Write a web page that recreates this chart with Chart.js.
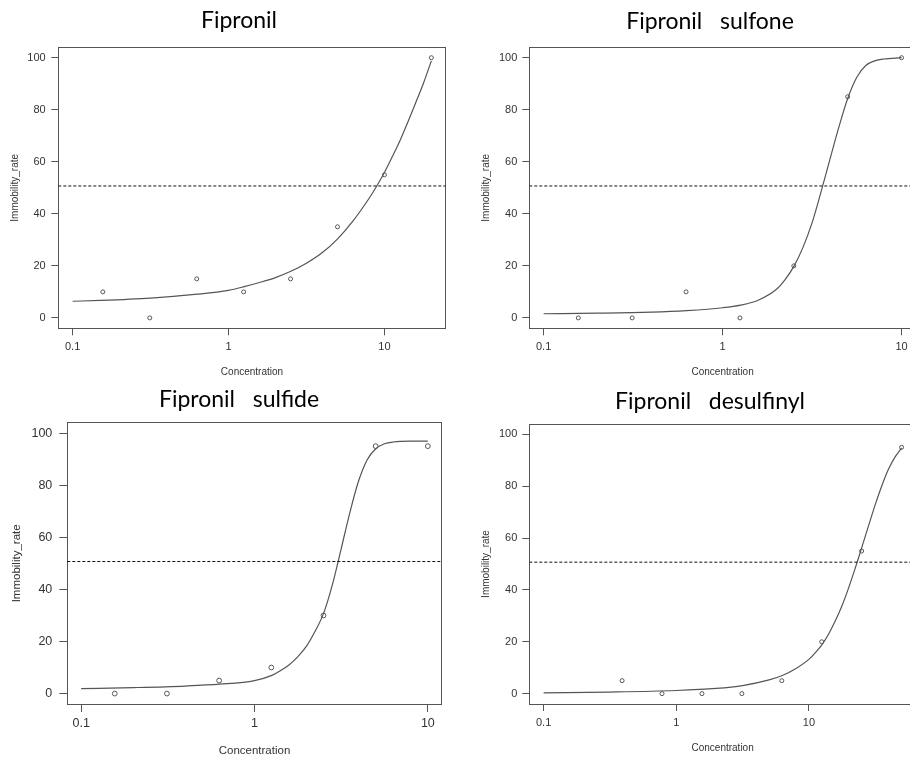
<!DOCTYPE html>
<html>
<head>
<meta charset="utf-8">
<script src="https://cdn.jsdelivr.net/npm/chart.js@4.4.1/dist/chart.umd.min.js"></script>
<style>
html,body{margin:0;padding:0;background:#fff;overflow:hidden;width:910px;height:760px;position:relative;}
canvas{position:absolute;}
</style>
</head>
<body>
<canvas id="c1" width="478" height="380" style="left:0px;top:0px"></canvas>
<canvas id="c2" width="510" height="380" style="left:455px;top:0px"></canvas>
<canvas id="c3" width="478" height="380" style="left:0px;top:380px"></canvas>
<canvas id="c4" width="510" height="380" style="left:455px;top:380px"></canvas>
<script>
// ---------- data ----------
const titles = ['Fipronil', 'Fipronil   sulfone', 'Fipronil   sulfide', 'Fipronil   desulfinyl'];
const xAxisTitle = 'Concentration';
const yAxisTitle = 'Immobility_rate';
const xTickValues = [0.1, 1, 10];
const xTickLabels = ['0.1', '1', '10'];
const yTickValues = [0, 20, 40, 60, 80, 100];
const yTickLabels = ['0', '20', '40', '60', '80', '100'];
const referenceLevel = 50.7;

// observed points
const conc1 = [0.15625, 0.3125, 0.625, 1.25, 2.5, 5, 10, 20];
const rate1 = [10, 0, 15, 10, 15, 35, 55, 100];
const conc2 = [0.15625, 0.3125, 0.625, 1.25, 2.5, 5, 10];
const rate2 = [0, 0, 10, 0, 20, 85, 100];
const conc3 = [0.15625, 0.3125, 0.625, 1.25, 2.5, 5, 10];
const rate3 = [0, 0, 5, 10, 30, 95, 95];
const conc4 = [0.390625, 0.78125, 1.5625, 3.125, 6.25, 12.5, 25, 50];
const rate4 = [5, 0, 0, 0, 5, 20, 55, 95];

// fitted curves
const fitConc1 = [0.1, 0.15, 0.316, 0.631, 1, 1.26, 1.58, 2, 2.51, 3.16, 3.98, 5.01, 6.31, 7.94, 8.91, 10, 11.2, 12.6, 14.1, 15.8, 17.8, 20];
const fitRate1 = [6.4, 6.7, 7.6, 9.1, 10.6, 12.0, 13.6, 15.5, 17.9, 21.0, 25.0, 30.4, 37.4, 45.8, 50.6, 55.9, 61.8, 68.2, 75.1, 82.4, 90.2, 98.8];
const fitConc2 = [0.1, 0.2, 0.4, 0.63, 1, 1.26, 1.58, 2, 2.24, 2.51, 2.82, 3.16, 3.55, 3.98, 4.47, 5.01, 5.62, 6.31, 7.08, 7.94, 10];
const fitRate2 = [1.6, 1.8, 2.2, 2.8, 3.9, 4.9, 6.8, 11.0, 14.8, 20.0, 27.3, 36.5, 48.5, 61.0, 73.5, 84.5, 92.5, 97.0, 98.8, 99.5, 100];
const fitConc3 = [0.1, 0.2, 0.4, 0.63, 1, 1.26, 1.41, 1.58, 1.78, 2, 2.24, 2.51, 2.82, 3.16, 3.55, 3.98, 4.47, 5.01, 5.62, 6.31, 7.94, 10];
const fitRate3 = [1.9, 2.3, 2.9, 3.6, 5.0, 7.0, 8.8, 11.0, 14.2, 18.3, 24.0, 31.0, 42.0, 55.5, 69.5, 81.5, 89.8, 94.0, 95.9, 96.6, 96.9, 96.9];
const fitConc4 = [0.1, 0.316, 1, 2, 3.16, 5.01, 6.31, 7.94, 10, 11.2, 12.6, 14.1, 15.8, 17.8, 20, 22.4, 25.1, 28.2, 31.6, 35.5, 39.8, 44.7, 50];
const fitRate4 = [0.3, 0.6, 1.2, 2.0, 3.1, 5.3, 7.0, 9.6, 13.2, 15.8, 19.0, 23.0, 28.0, 34.0, 41.0, 48.5, 56.5, 64.8, 72.8, 80.2, 86.5, 91.3, 94.8];

// ---------- layout / style ----------
const lineCol = '#555';
const textCol = '#333';
const tickFamily = "'Liberation Sans', Arial, sans-serif";
const titleFamily = "Lato, 'Open Sans', sans-serif";

// R-style axis limits: 4% expansion of the (log) data range
function rLogLimits(lo, hi) {
  const a = Math.log10(lo), b = Math.log10(hi), d = (b - a) * 0.04;
  return [Math.pow(10, a - d), Math.pow(10, b + d)];
}

const panels = [
  {id:'c1', t:0, conc:conc1, rate:rate1, fx:fitConc1, fy:fitRate1, range:[0.1, 20],
   yAxisW:58.3, y2W:32.3, xAxisH:51.7, tPad:{top:6.6, bottom:13.1},
   tickFont:11, labFont:10, tickLen:7, xTickPad:5.1, yTickPad:5.6, yTitlePad:9, xTitlePad:2, r:2},
  {id:'c2', t:1, conc:conc2, rate:rate2, fx:fitConc2, fy:fitRate2, range:[0.1, 10],
   yAxisW:74.3, y2W:49.1, xAxisH:51.7, tPad:{top:8, bottom:11.7},
   tickFont:11, labFont:10, tickLen:7, xTickPad:5.1, yTickPad:5, yTitlePad:25.7, xTitlePad:2, r:2},
  {id:'c3', t:2, conc:conc3, rate:rate3, fx:fitConc3, fy:fitRate3, range:[0.1, 10],
   yAxisW:67.3, y2W:36.3, xAxisH:56, tPad:{top:5.6, bottom:9.5},
   tickFont:12.5, labFont:11.5, tickLen:8, xTickPad:4.5, yTickPad:7, yTitlePad:9.8, xTitlePad:2.1, r:2.4},
  {id:'c4', t:3, conc:conc4, rate:rate4, fx:fitConc4, fy:fitRate4, range:[0.1, 50],
   yAxisW:74.3, y2W:49.1, xAxisH:56, tPad:{top:8, bottom:8.4},
   tickFont:11, labFont:10, tickLen:7, xTickPad:5.7, yTickPad:5, yTitlePad:25.7, xTitlePad:5.7, r:2}
];

panels.forEach(p => {
  const [xMin, xMax] = rLogLimits(p.range[0], p.range[1]);
  const pts = p.conc.map((c, i) => ({x: c, y: p.rate[i]}));
  const fit = p.fx.map((c, i) => ({x: c, y: p.fy[i]}));
  const ref = [{x: xMin, y: referenceLevel}, {x: xMax, y: referenceLevel}];

  new Chart(document.getElementById(p.id), {
    type: 'scatter',
    data: {
      datasets: [
        {data: ref, showLine: true, pointRadius: 0, borderColor: '#111', borderWidth: 1,
         borderDash: [3, 2], fill: false},
        {data: fit, showLine: true, pointRadius: 0, borderColor: lineCol, borderWidth: 1.2,
         cubicInterpolationMode: 'monotone', fill: false},
        {data: pts, showLine: false, pointStyle: 'circle', pointRadius: p.r,
         pointBorderWidth: 1, pointBorderColor: lineCol, pointBackgroundColor: 'rgba(0,0,0,0)'}
      ]
    },
    options: {
      responsive: false,
      animation: false,
      devicePixelRatio: 1,
      layout: {padding: 0},
      plugins: {
        legend: {display: false},
        tooltip: {enabled: false},
        title: {display: true, text: titles[p.t], color: '#000',
                font: {family: titleFamily, size: 23, weight: 'normal', lineHeight: 1.2},
                padding: p.tPad}
      },
      scales: {
        x: {
          type: 'logarithmic', position: 'bottom', min: xMin, max: xMax,
          afterBuildTicks: s => { s.ticks = xTickValues.map(v => ({value: v})); },
          afterFit: s => { s.height = p.xAxisH; },
          ticks: {autoSkip: false, maxRotation: 0, minRotation: 0, padding: p.xTickPad, color: textCol,
                  font: {family: tickFamily, size: p.tickFont},
                  callback: v => xTickLabels[xTickValues.indexOf(v)]},
          grid: {display: true, drawOnChartArea: false, drawTicks: true, tickLength: p.tickLen, color: lineCol},
          border: {display: true, color: lineCol, width: 1},
          title: {display: true, text: xAxisTitle, color: textCol,
                  font: {family: tickFamily, size: p.labFont, lineHeight: 1.2},
                  padding: {top: 0, bottom: p.xTitlePad}}
        },
        y: {
          type: 'linear', position: 'left', min: -4, max: 104,
          afterBuildTicks: s => { s.ticks = yTickValues.map(v => ({value: v})); },
          afterFit: s => { s.width = p.yAxisW; },
          ticks: {autoSkip: false, padding: p.yTickPad, color: textCol,
                  font: {family: tickFamily, size: p.tickFont},
                  callback: v => yTickLabels[yTickValues.indexOf(v)]},
          grid: {display: true, drawOnChartArea: false, drawTicks: true, tickLength: p.tickLen, color: lineCol},
          border: {display: true, color: lineCol, width: 1},
          title: {display: true, text: yAxisTitle, color: textCol,
                  font: {family: tickFamily, size: p.labFont, lineHeight: 1.2},
                  padding: {top: p.yTitlePad, bottom: 0}}
        },
        x2: {
          type: 'linear', position: 'top', display: true,
          afterFit: s => { s.height = 0; },
          ticks: {display: false}, grid: {display: false, drawTicks: false},
          border: {display: true, color: lineCol, width: 1}
        },
        y2: {
          type: 'linear', position: 'right', display: true,
          afterFit: s => { s.width = p.y2W; },
          ticks: {display: false}, grid: {display: false, drawTicks: false},
          border: {display: true, color: lineCol, width: 1}
        }
      }
    }
  });
});
</script>
</body>
</html>
